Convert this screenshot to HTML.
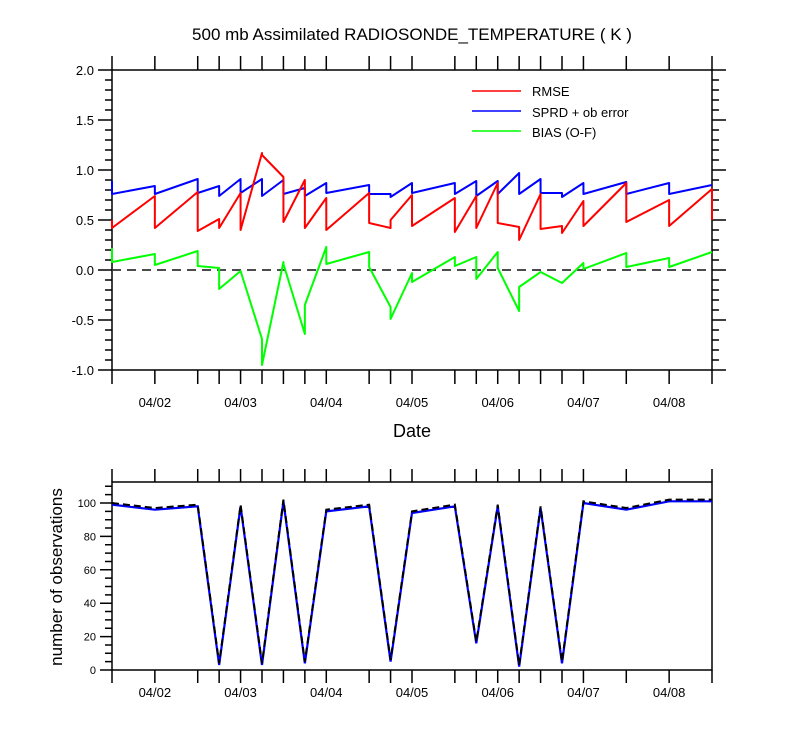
<!DOCTYPE html>
<html><head><meta charset="utf-8"><style>
body{margin:0;background:#fff}
svg{display:block;font-family:"Liberation Sans",sans-serif}
</style></head><body>
<svg id="c" width="800" height="750" xmlns="http://www.w3.org/2000/svg">
<text x="412" y="40" font-size="17" text-anchor="middle">500 mb Assimilated RADIOSONDE_TEMPERATURE ( K )</text>
<text x="412" y="437" font-size="18" text-anchor="middle">Date</text>
<text transform="translate(62,577) rotate(-90)" font-size="17" text-anchor="middle">number of observations</text>
<g>
<line x1="472" y1="91" x2="521" y2="91" stroke="#f00" stroke-width="1.5"/><text x="532" y="96" font-size="13">RMSE</text>
<line x1="472" y1="111" x2="521" y2="111" stroke="#00f" stroke-width="1.5"/><text x="532" y="117" font-size="13">SPRD + ob error</text>
<line x1="472" y1="131" x2="521" y2="131" stroke="#0f0" stroke-width="1.5"/><text x="532" y="137" font-size="13">BIAS (O-F)</text>
</g>
</svg>
<script>
// observation time index (6-hourly from 04/01 12Z)
const times=[0,2,4,5,6,7,8,9,10,12,13,14,16,17,18,19,20,21,22,24,26,28];
const rmseBefore=[0.50,0.74,0.78,0.51,0.77,1.17,0.93,0.90,0.72,0.77,0.42,0.75,0.72,0.74,0.87,0.43,0.76,0.44,0.69,0.87,0.70,0.81];
const rmseAfter =[0.42,0.42,0.39,0.42,0.40,1.15,0.48,0.42,0.40,0.47,0.50,0.44,0.38,0.42,0.47,0.30,0.41,0.37,0.44,0.48,0.44,0.50];
const sprdBefore=[0.89,0.84,0.91,0.84,0.91,0.91,0.90,0.82,0.87,0.85,0.76,0.87,0.87,0.89,0.89,0.97,0.91,0.77,0.87,0.88,0.87,0.85];
const sprdAfter =[0.76,0.76,0.77,0.74,0.77,0.74,0.76,0.74,0.77,0.76,0.73,0.77,0.76,0.74,0.76,0.76,0.77,0.73,0.76,0.76,0.76,0.85];
const biasBefore=[0.22,0.16,0.19,0.02,-0.01,-0.69,0.08,-0.64,0.23,0.18,-0.37,-0.03,0.13,0.13,0.18,-0.41,-0.02,-0.13,0.07,0.17,0.12,0.18];
const biasAfter =[0.08,0.05,0.04,-0.19,-0.01,-0.95,0.06,-0.35,0.06,0.03,-0.49,-0.12,0.04,-0.09,0.02,-0.17,-0.02,-0.13,0.01,0.03,0.03,0.18];
const obsUsed   =[99,96,98,3,98,3,101,4,95,98,5,94,98,16,98,2,97,4,100,96,101,101];
const obsTotal  =[100,97,99,4,99,4,102,5,96,99,6,95,99,17,99,3,98,5,101,97,102,102];
const dayLabels=["04/02","04/03","04/04","04/05","04/06","04/07","04/08"];
const dayIdx=[2,6,10,14,18,22,26];
const yTicksTop=["2.0","1.5","1.0","0.5","0.0","-0.5","-1.0"];
const yTicksTopVal=[2,1.5,1,0.5,0,-0.5,-1];
const yTicksBot=[0,20,40,60,80,100];

const svg=document.getElementById('c');const NS='http://www.w3.org/2000/svg';
const L=112,R=712;
const X=i=>L+(R-L)*i/28;
const YT=v=>270-100*v;
const YB=v=>670-1.67*v;
function mk(t,a,name){const e=document.createElementNS(NS,t);for(const k in a)e.setAttribute(k,a[k]);


svg.appendChild(e);return e;}
function frame(top,bot,name){mk('rect',{x:L,y:top,width:R-L,height:bot-top,fill:'none',stroke:'#000','stroke-width':1.5},name);}
// top panel
frame(70,370,'top-plot-frame');
mk('line',{x1:L,y1:YT(0),x2:R,y2:YT(0),stroke:'#333','stroke-width':1.8,'stroke-dasharray':'9,6'},'zero-line');
let p='';
for(let k=0;k<=30;k++){const v=2-k*0.1;const y=YT(v);const len=(k%5==0)?14:7;
p+=`M${L} ${y}h${-len}M${R} ${y}h${len}`;}
times.forEach(i=>{p+=`M${X(i)} 70v-14M${X(i)} 370v14`;});
mk('path',{d:p,stroke:'#000','stroke-width':1.5,fill:'none'},'top-ticks');
yTicksTop.forEach((t,k)=>{const e=mk('text',{x:L-18,y:YT(yTicksTopVal[k])+5,'font-size':13,'text-anchor':'end'},'y-tick-label');e.textContent=t;});
dayLabels.forEach((t,k)=>{const e=mk('text',{x:X(dayIdx[k]),y:407,'font-size':13,'text-anchor':'middle'},'x-tick-label');e.textContent=t;
const e2=mk('text',{x:X(dayIdx[k]),y:697,'font-size':13,'text-anchor':'middle'},'x-tick-label-bottom');e2.textContent=t;});
function saw(b,a,color,name){let d='';times.forEach((i,k)=>{d+=(k?'L':'M')+X(i)+' '+YT(b[k])+'L'+X(i)+' '+YT(a[k]);});
mk('path',{d:d,stroke:color,'stroke-width':2,fill:'none','stroke-linejoin':'round'},name);}
saw(sprdBefore,sprdAfter,'#00f','sprd-line');
saw(rmseBefore,rmseAfter,'#f00','rmse-line');
saw(biasBefore,biasAfter,'#0f0','bias-line');
// bottom panel
frame(482,670,'bottom-plot-frame');
let q='';
for(let v=0;v<=110;v+=5){const y=YB(v);q+=`M${L} ${y}h${v%20==0?-12:-7}`;}
times.forEach(i=>{q+=`M${X(i)} 482v-13M${X(i)} 670v13`;});
mk('path',{d:q,stroke:'#000','stroke-width':1.5,fill:'none'},'bottom-ticks');
yTicksBot.forEach(v=>{const e=mk('text',{x:L-16,y:YB(v)+4,'font-size':11,'text-anchor':'end'},'y-tick-label-bottom');e.textContent=v;});
function line(arr,attrs,name){let d='';times.forEach((i,k)=>{d+=(k?'L':'M')+X(i)+' '+YB(arr[k]);});
mk('path',Object.assign({d:d,fill:'none'},attrs),name);}
line(obsUsed,{stroke:'#00f','stroke-width':2.2},'obs-used-line');
line(obsTotal,{stroke:'#000','stroke-width':2,'stroke-dasharray':'7,4'},'obs-total-line');
</script>
</body></html>
